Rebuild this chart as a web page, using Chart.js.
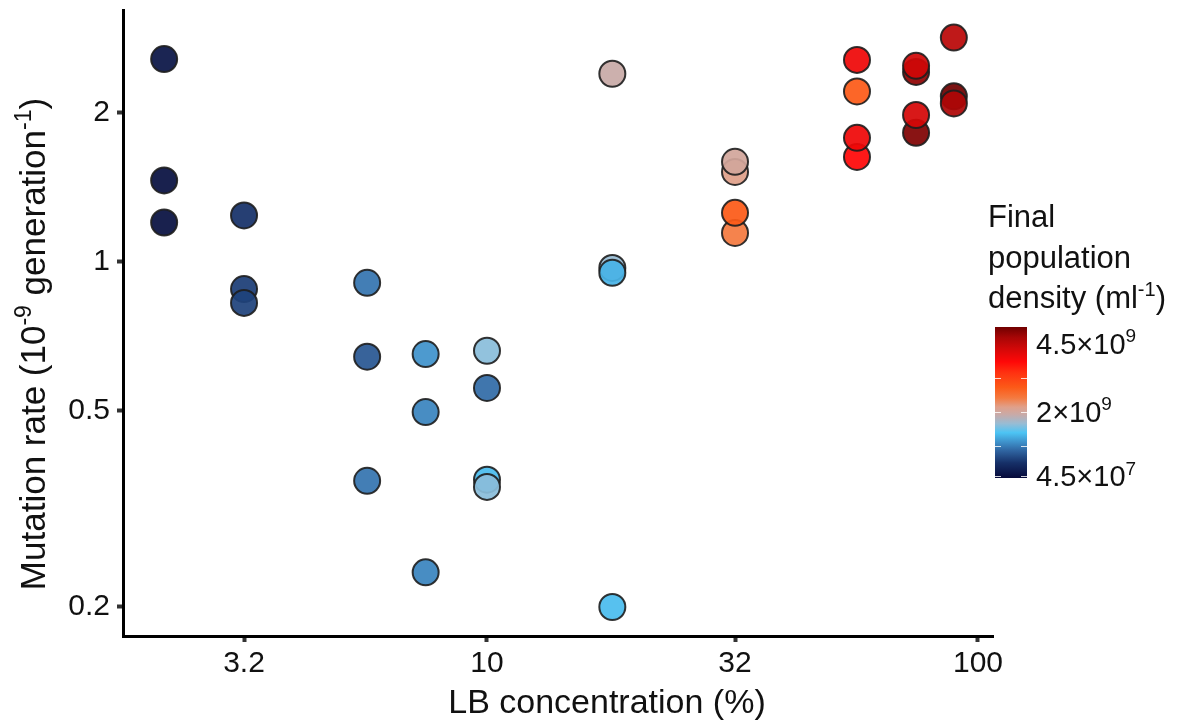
<!DOCTYPE html>
<html>
<head>
<meta charset="utf-8">
<script src="https://cdn.jsdelivr.net/npm/chart.js@4/dist/chart.umd.min.js"></script>
<style>
  html, body { margin: 0; padding: 0; background: #fff; }
</style>
</head>
<body>
<canvas id="mutChart" width="1187" height="724"></canvas>
<script>
// LB concentration (%) of each culture
const lbConc = [2.2, 2.2, 2.2, 3.2, 3.2, 3.2, 5.7, 5.7, 5.7, 7.5, 7.5, 7.5,
  10, 10, 10, 10, 18, 18, 18, 18, 32, 32, 32, 32,
  56.7, 56.7, 56.7, 56.7, 74.8, 74.8, 74.8, 74.8, 89.3, 89.3, 89.3];
// mutation rate (10^-9 per generation)
const mutRate = [2.57, 1.46, 1.20, 1.24, 0.88, 0.825, 0.906, 0.642, 0.36, 0.65, 0.496, 0.235,
  0.66, 0.555, 0.362, 0.35, 2.40, 0.971, 0.949, 0.20, 1.519, 1.592, 1.143, 1.255,
  2.56, 2.21, 1.629, 1.78, 2.42, 2.49, 1.822, 1.98, 2.84, 2.16, 2.09];
// final population density (10^9 per ml)
const density = [0.16, 0.11, 0.11, 0.49, 0.58, 0.62, 0.94, 0.76, 0.94, 1.11, 1.03, 1.03,
  1.60, 0.89, 1.34, 1.60, 1.92, 1.65, 1.29, 1.34, 2.14, 2.01, 2.41, 2.72,
  3.61, 2.72, 3.48, 3.61, 4.32, 3.88, 4.41, 3.83, 4.05, 4.50, 4.14];

const xTicks = [3.2, 10, 32, 100];
const xTickLabels = ['3.2', '10', '32', '100'];
const yTicks = [0.2, 0.5, 1, 2];
const yTickLabels = ['0.2', '0.5', '1', '2'];

// colour bar
const densMin = 0.045, densMax = 4.5;
const cbarLabelBase = ['4.5×10', '2×10', '4.5×10'];
const cbarLabelExp = ['9', '9', '7'];
const cbarLabelAt = [4.0, 2.0, 0.1];
const cbarMarks = [0.1, 1, 2, 3];

const FONT = "'Liberation Sans', Arial, sans-serif";

const cmap = [
  [0.00, '#060a3a'], [0.10, '#163068'], [0.18, '#2f64a0'], [0.24, '#3f93cc'],
  [0.30, '#4cc4f4'], [0.36, '#98bcd4'], [0.42, '#c8aaa8'], [0.47, '#e0a08a'],
  [0.53, '#f47a40'], [0.60, '#fc5a18'], [0.70, '#ff3010'], [0.77, '#ff0808'],
  [0.86, '#d00808'], [0.93, '#a80606'], [1.00, '#700000']
];

function hexRgb(h) {
  return [parseInt(h.slice(1, 3), 16), parseInt(h.slice(3, 5), 16), parseInt(h.slice(5, 7), 16)];
}

function colorFor(d, alpha) {
  let t = (d - densMin) / (densMax - densMin);
  t = Math.max(0, Math.min(1, t));
  for (let i = 1; i < cmap.length; i++) {
    if (t <= cmap[i][0]) {
      const f = (t - cmap[i - 1][0]) / (cmap[i][0] - cmap[i - 1][0]);
      const a = hexRgb(cmap[i - 1][1]), b = hexRgb(cmap[i][1]);
      const c = a.map((v, k) => Math.round(v + (b[k] - v) * f));
      return `rgba(${c[0]},${c[1]},${c[2]},${alpha})`;
    }
  }
  return cmap[cmap.length - 1][1];
}

// text with superscript parts: [[text, isSup], ...]
function drawRich(ctx, parts, x, y, size, align) {
  const supSize = Math.round(size * 0.65);
  let total = 0;
  parts.forEach(p => {
    ctx.font = `${p[1] ? supSize : size}px ${FONT}`;
    total += ctx.measureText(p[0]).width;
  });
  let cx = align === 'center' ? x - total / 2 : x;
  parts.forEach(p => {
    ctx.font = `${p[1] ? supSize : size}px ${FONT}`;
    ctx.fillText(p[0], cx, p[1] ? y - size * 0.4 : y);
    cx += ctx.measureText(p[0]).width;
  });
}

const extras = {
  id: 'extras',
  afterDraw(chart) {
    const ctx = chart.ctx;
    ctx.save();
    ctx.fillStyle = '#111';
    ctx.textBaseline = 'alphabetic';
    ctx.textAlign = 'left';

    // axis titles
    drawRich(ctx, [['LB concentration (%)', false]], 607, 713, 34, 'center');
    ctx.save();
    ctx.translate(45, 344);
    ctx.rotate(-Math.PI / 2);
    drawRich(ctx, [['Mutation rate (10', false], ['-9', true], [' generation', false], ['-1', true], [')', false]], 0, 0, 35, 'center');
    ctx.restore();

    // legend title
    drawRich(ctx, [['Final', false]], 988, 227, 31, 'left');
    drawRich(ctx, [['population', false]], 988, 268, 31, 'left');
    drawRich(ctx, [['density (ml', false], ['-1', true], [')', false]], 988, 308, 31, 'left');

    // colour bar
    const bx = 995, by = 327, bw = 32, bh = 151;
    const grad = ctx.createLinearGradient(0, by + bh, 0, by);
    cmap.forEach(s => grad.addColorStop(s[0], s[1]));
    ctx.fillStyle = grad;
    ctx.fillRect(bx, by, bw, bh);
    const yOf = d => by + bh - (d - densMin) / (densMax - densMin) * bh;
    ctx.strokeStyle = 'rgba(255,255,255,0.8)';
    ctx.lineWidth = 1;
    cbarMarks.forEach(d => {
      const y = Math.round(yOf(d)) + 0.5;
      ctx.beginPath();
      ctx.moveTo(bx, y); ctx.lineTo(bx + 6, y);
      ctx.moveTo(bx + bw - 6, y); ctx.lineTo(bx + bw, y);
      ctx.stroke();
    });
    ctx.fillStyle = '#111';
    cbarLabelBase.forEach((b, i) => {
      drawRich(ctx, [[b, false], [cbarLabelExp[i], true]], 1036, yOf(cbarLabelAt[i]) + 10, 29, 'left');
    });
    ctx.restore();
  }
};

new Chart(document.getElementById('mutChart'), {
  type: 'scatter',
  data: {
    datasets: [{
      data: lbConc.map((x, i) => ({ x: x, y: mutRate[i] })),
      pointRadius: 13,
      pointHoverRadius: 13,
      borderWidth: 2,
      borderColor: 'rgba(30,30,30,0.9)',
      backgroundColor: ctx => colorFor(density[ctx.dataIndex], 0.93)
    }]
  },
  options: {
    responsive: false,
    animation: false,
    devicePixelRatio: 1,
    layout: { autoPadding: false, padding: { left: 0, right: 194, top: 10, bottom: 0 } },
    plugins: {
      legend: { display: false },
      tooltip: { enabled: false }
    },
    scales: {
      x: {
        type: 'logarithmic',
        min: 1.814,
        max: 107.3,
        border: { color: '#000', width: 3 },
        grid: { drawOnChartArea: false, drawTicks: true, tickLength: 6, tickWidth: 4, tickColor: '#333' },
        afterBuildTicks: s => { s.ticks = xTicks.map(v => ({ value: v })); },
        afterFit: s => { s.height = 88; s.paddingLeft = 0; s.paddingRight = 0; },
        ticks: {
          autoSkip: false, maxRotation: 0, padding: 4, color: '#111',
          font: { family: FONT, size: 30 },
          callback: v => xTickLabels[xTicks.indexOf(v)]
        }
      },
      y: {
        type: 'logarithmic',
        min: 0.1747,
        max: 3.23,
        border: { color: '#000', width: 3 },
        grid: { drawOnChartArea: false, drawTicks: true, tickLength: 6, tickWidth: 4, tickColor: '#333' },
        afterBuildTicks: s => { s.ticks = yTicks.map(v => ({ value: v })); },
        afterFit: s => { s.width = 123; s.paddingTop = 0; s.paddingBottom = 0; },
        ticks: {
          autoSkip: false, padding: 7, color: '#111',
          font: { family: FONT, size: 30 },
          callback: v => yTickLabels[yTicks.indexOf(v)]
        }
      }
    }
  },
  plugins: [extras]
});
</script>
</body>
</html>
